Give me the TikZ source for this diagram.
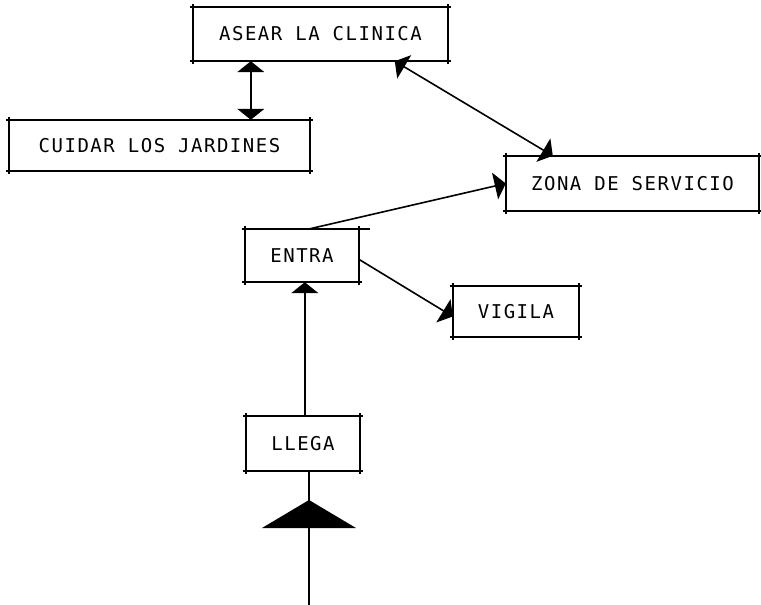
\documentclass[tikz,border=0pt]{standalone}
\usepackage{fontspec}
\newfontfamily\plotfont[LetterSpace=8]{DejaVu Sans Mono}
\usetikzlibrary{arrows.meta,calc}
\tikzset{
  lbl/.style={inner sep=0pt, font=\plotfont\fontsize{19}{22}\selectfont},
  conn/.style={line width=1.6pt, line cap=round},
  tip/.style={-{Triangle[length=11pt,width=27pt]}},
  tips/.style={{Triangle[length=11pt,width=27pt]}-{Triangle[length=11pt,width=27pt]}},
  edge/.style={line width=1.8pt},
}
\newcommand{\plotbox}[6]{%
  \node[lbl, minimum width={#4-#2}, minimum height={#5-#3}] (#1) at ({(#2+#4)/2},{(#3+#5)/2}) {#6};
  \draw[edge] ([xshift=-3pt]#1.north west) -- ([xshift=3pt]#1.north east);
  \draw[edge] ([xshift=-3pt]#1.south west) -- ([xshift=3pt]#1.south east);
  \draw[edge] ([yshift=3pt]#1.north west) -- ([yshift=-3pt]#1.south west);
  \draw[edge] ([yshift=3pt]#1.north east) -- ([yshift=-3pt]#1.south east);
}
\begin{document}
\begin{tikzpicture}[x=1pt,y=-1pt]
\useasboundingbox (0,0) rectangle (761,605);
\plotbox{asear}{193}{7}{448}{61}{ASEAR LA CLINICA}
\plotbox{cuidar}{9}{120}{310}{171}{CUIDAR LOS JARDINES}
\plotbox{zona}{506}{156}{759}{211}{ZONA DE SERVICIO}
\plotbox{entra}{245}{229}{359}{282}{ENTRA}
\plotbox{vigila}{453}{286}{579}{337}{VIGILA}
\plotbox{llega}{246}{416}{360}{471}{LLEGA}
% extended top line of ENTRA
\draw[edge] (entra.north east) -- ([xshift=11pt]entra.north east);
% connectors
\draw[conn,tips] ([xshift=58pt]asear.south west) -- ([xshift=58pt]asear.south west |- cuidar.north);
\draw[conn,tips] ([xshift=202pt]asear.south west) -- ([xshift=47pt]zona.north west);
\draw[conn,tip] ([xshift=65pt]entra.north west) -- (zona.west);
\draw[conn,tip] ([yshift=-4pt]entra.east) -- ([yshift=-5pt]vigila.west);
\draw[conn,tip] ([xshift=59pt]llega.north west) -- ([xshift=59pt]llega.north west |- entra.south);
\coordinate (bot) at (309,605);
\draw[conn] (bot) -- (bot |- llega.south);
\fill (309,500) -- (262,528) -- (356,528) -- cycle;
\end{tikzpicture}
\end{document}
